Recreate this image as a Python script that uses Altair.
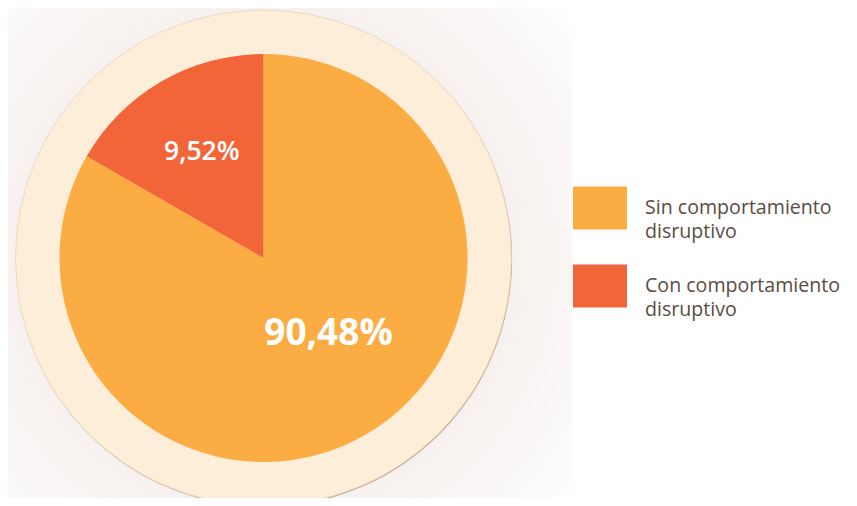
import math
import altair as alt
import pandas as pd

# Data
categories = ["Sin comportamiento disruptivo", "Con comportamiento disruptivo"]
shares = [83.3, 16.7]            # slice sizes as drawn in the picture
labels = ["90,48%", "9,52%"]     # printed labels
colors = ["#FBAC42", "#F26539"]

df = pd.DataFrame({"category": categories, "share": shares, "label": labels})

W, H = 841, 490
CX, CY = 255.5, 250.0
R_PIE = 204
R_RING = 248
TAU = 2 * math.pi
center = dict(x=alt.value(CX), y=alt.value(CY))
one = alt.Data(values=[{"a": 1}])

glow = alt.Chart(one).mark_arc(
    radius=400, theta=0, theta2=TAU,
    fill=alt.RadialGradient(
        gradient="radial",
        stops=[alt.GradientStop(offset=0, color="#f6f1ef"),
               alt.GradientStop(offset=0.45, color="#f9f6f5"),
               alt.GradientStop(offset=1, color="#ffffff")],
        x1=0.5, y1=0.5, x2=0.5, y2=0.5, r1=0.5 * R_RING / 400, r2=0.5),
).encode(**center)

cover = alt.Chart(one).mark_rect(color="white").encode(
    x=alt.value(564), x2=alt.value(W), y=alt.value(0), y2=alt.value(H))

rim = alt.Chart(one).mark_arc(radius=R_RING, theta=0, theta2=TAU, color="#bda78e").encode(
    x=alt.value(CX + 0.6), y=alt.value(CY + 1.0))
ring = alt.Chart(one).mark_arc(
    radius=R_RING, theta=0, theta2=TAU, color="#FDEEDA", stroke="#e6d0b4", strokeWidth=0.7
).encode(**center)

order = alt.Order("category:N", sort="descending")
theta = alt.Theta("share:Q", stack=True)

pie = alt.Chart(df).mark_arc(radius=R_PIE, strokeWidth=0).encode(
    theta=theta,
    order=order,
    color=alt.Color(
        "category:N",
        scale=alt.Scale(domain=categories, range=colors),
        legend=alt.Legend(
            title=None, orient="none", legendX=565, legendY=173,
            symbolType="M-1,-0.8L1,-0.8L1,0.8L-1,0.8Z", symbolSize=2916,
            symbolStrokeWidth=0, symbolOpacity=1,
            labelFont="Open Sans", labelFontSize=19.6, labelColor="#5a4c43",
            labelOffset=18, rowPadding=17, labelLimit=300, padding=0,
            labelExpr="split(replace(datum.label, ' disruptivo', '|disruptivo'), '|')",
            labelBaseline="middle",
        ),
    ),
    **center,
)

small_txt = alt.Chart(df).mark_text(
    radius=123, font="Open Sans", fontSize=26.5, fontWeight=600, color="white"
).encode(
    theta=theta, order=order,
    text=alt.condition(alt.datum.category == categories[1], alt.Text("label:N"), alt.value("")),
    **center,
)

big_txt = alt.Chart(df).mark_text(
    radius=100, thetaOffset=-0.183, font="Open Sans", fontSize=37, fontWeight="bold", color="white"
).encode(
    theta=theta, order=order,
    text=alt.condition(alt.datum.category == categories[0], alt.Text("label:N"), alt.value("")),
    **center,
)

chart = alt.layer(glow, cover, rim, ring, pie, small_txt, big_txt).properties(
    width=W, height=H, padding=0, autosize="none", background="white"
).configure(style={"guide-label": {"lineHeight": 24.3}}).configure_view(stroke=None)

chart.save("out.html", embed_options={"renderer": "svg", "actions": False})
